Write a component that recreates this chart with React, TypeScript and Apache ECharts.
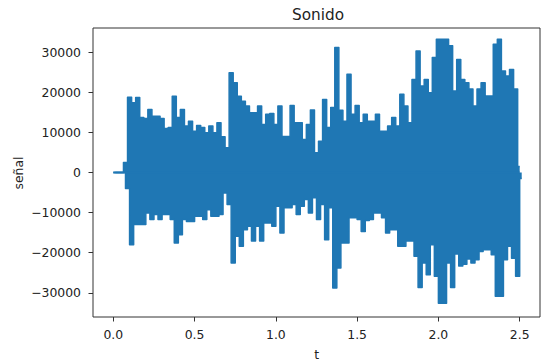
import React, { useEffect, useRef } from "react";
import * as echarts from "echarts";

// Sample spacing (s) of the read-off envelope peaks
const dt = 0.025;

// Positive peaks at t = i*dt
const peakHigh = [
  0, 0, 0, 2500, 18800, 17400, 18700, 13700, 13500, 15700,
  14000, 14000, 13500, 11000, 11200, 19000, 13700, 15700, 11600, 12800,
  10300, 11700, 11200, 9900, 11600, 9900, 12400, 8900, 6200, 24900,
  22400, 19000, 17800, 16600, 14900, 14900, 16600, 12000, 14500, 14700,
  12000, 16600, 9000, 9000, 16700, 12400, 12400, 8200, 12000, 15600,
  4900, 7800, 18200, 11200, 16200, 31200, 15500, 12800, 24500, 14500,
  16700, 12400, 14500, 12800, 12800, 14500, 10300, 10300, 11600, 13700,
  11600, 19500, 16600, 12400, 23200, 30300, 21600, 23200, 19900, 28700,
  33250, 33250, 33250, 31600, 20300, 28200, 23200, 22400, 20800, 16600,
  20800, 22400, 19100, 19100, 32000, 33250, 25300, 24100, 25700, 20800,
  1500,
];

// Negative peaks at t = i*dt + dt/2
const peakLow = [
  0, 0, 0, -4000, -18000, -13000, -13000, -13000, -10100, -11750,
  -10500, -11750, -10500, -10500, -11750, -17600, -15500, -11750, -12200, -12200,
  -10900, -10900, -11750, -9300, -10900, -10900, -10500, -5100, -8000, -22600,
  -15900, -18400, -14250, -13400, -17100, -13400, -17100, -12600, -12600, -13400,
  -8400, -15100, -8800, -8800, -8000, -10500, -8400, -6750, -10100, -6300,
  -11750, -8000, -16750, -8800, -28800, -23800, -17600, -17600, -11300, -11300,
  -11750, -14700, -12000, -11750, -10100, -10100, -11300, -15100, -14250, -14250,
  -18400, -18400, -17100, -17100, -20900, -28700, -22600, -25500, -18000, -25900,
  -32600, -32600, -22600, -28700, -20300, -23300, -22900, -21600, -22600, -21750,
  -19700, -19250, -19250, -20500, -30900, -30900, -21750, -18400, -21400, -25900,
  -1500,
];

const xTicks = [0, 0.5, 1, 1.5, 2, 2.5];
const yTicks = [-30000, -20000, -10000, 0, 10000, 20000, 30000];

const FONT = "DejaVu Sans";
const BLUE = "#1f77b4";

export default function App() {
  const ref = useRef<HTMLDivElement>(null);

  useEffect(() => {
    document.body.style.margin = "0";
    if (!ref.current) return;
    const chart = echarts.init(ref.current, undefined, { renderer: "svg" });

    const hi: [number, number][] = peakHigh.map((v, i) => [+(i * dt).toFixed(4), v]);
    const lo: [number, number][] = peakLow.map((v, i) => [+(i * dt + dt / 2).toFixed(5), v]);
    // the signal's zero line over its whole duration
    const zero: [number, number][] = [
      [hi[0][0], 0],
      [hi[hi.length - 1][0], 0],
    ];

    const labelColor = "#222";
    const envelope = (data: [number, number][]) => ({
      type: "line",
      data,
      step: "middle",
      showSymbol: false,
      symbol: "none",
      lineStyle: { color: BLUE, width: 1.5, join: "round" },
      areaStyle: { color: BLUE, opacity: 1 },
      clip: true,
      z: 2,
    });

    chart.setOption({
      animation: false,
      grid: {
        left: 93,
        right: 20,
        top: 28,
        bottom: 44,
        show: true,
        borderColor: "#333",
        borderWidth: 1,
        backgroundColor: "transparent",
      },
      xAxis: {
        type: "value",
        min: -0.125,
        max: 2.625,
        axisLine: { show: false, onZero: false },
        splitLine: { show: false },
        axisTick: {
          show: true,
          length: 4.5,
          lineStyle: { color: "#333" },
          customValues: xTicks,
        },
        axisLabel: {
          customValues: xTicks,
          margin: 11.5,
          color: labelColor,
          fontFamily: FONT,
          fontSize: 12.4,
          formatter: (v: number) => v.toFixed(1),
        },
      },
      yAxis: {
        type: "value",
        min: -36045,
        max: 36044,
        axisLine: { show: false, onZero: false },
        splitLine: { show: false },
        axisTick: {
          show: true,
          length: 4.5,
          lineStyle: { color: "#333" },
          customValues: yTicks,
        },
        axisLabel: {
          customValues: yTicks,
          margin: 12,
          color: labelColor,
          fontFamily: FONT,
          fontSize: 12.4,
          formatter: (v: number) => String(v).replace("-", "\u2212"),
        },
      },
      series: [
        envelope(hi),
        envelope(lo),
        {
          type: "line",
          data: zero,
          showSymbol: false,
          symbol: "none",
          lineStyle: { color: BLUE, width: 2 },
          z: 3,
        },
      ],
      graphic: [
        {
          type: "text",
          x: 318,
          y: 15,
          style: {
            text: "Sonido",
            fontFamily: FONT,
            fontSize: 15.3,
            fill: labelColor,
            align: "center",
            verticalAlign: "middle",
          },
        },
        {
          type: "text",
          x: 18,
          y: 173,
          rotation: Math.PI / 2,
          style: {
            text: "señal",
            fontFamily: FONT,
            fontSize: 12.4,
            fill: labelColor,
            align: "center",
            verticalAlign: "middle",
          },
        },
        {
          type: "text",
          x: 316.7,
          y: 354,
          style: {
            text: "t",
            fontFamily: FONT,
            fontSize: 12.4,
            fill: labelColor,
            align: "center",
            verticalAlign: "middle",
          },
        },
      ],
    });

    return () => chart.dispose();
  }, []);

  return <div ref={ref} style={{ width: 560, height: 361 }} />;
}
